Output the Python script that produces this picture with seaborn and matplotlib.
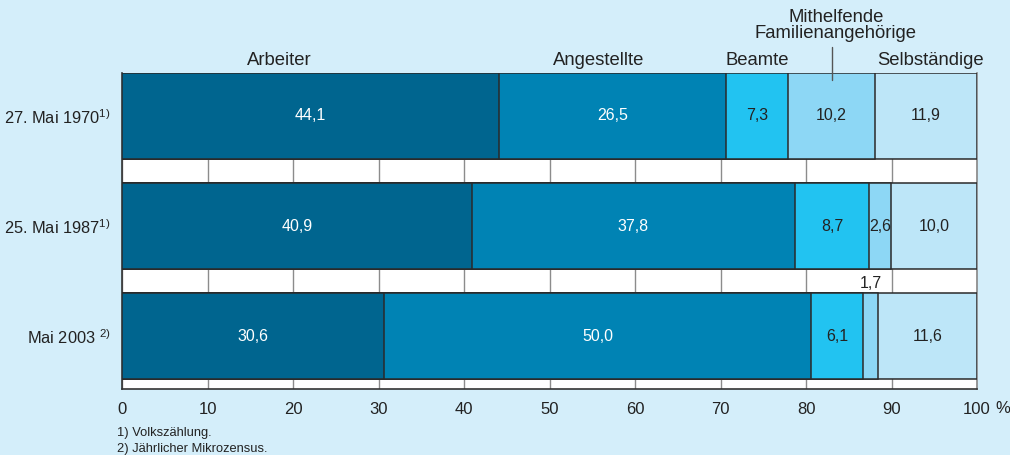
import matplotlib
matplotlib.use("Agg")
import matplotlib.pyplot as plt
import matplotlib.transforms as mtransforms
import numpy as np
import pandas as pd
import seaborn as sns

# Erwerbstätige nach Stellung im Beruf (Anteile in %)
zeitpunkte = ["27. Mai 1970", "25. Mai 1987", "Mai 2003"]
fussnoten_zeile = ["$^{1)}$", "$^{1)}$", " $^{2)}$"]
gruppen = ["Arbeiter", "Angestellte", "Beamte",
           "Mithelfende Familienangehörige", "Selbständige"]
arbeiter = [44.1, 40.9, 30.6]
angestellte = [26.5, 37.8, 50.0]
beamte = [7.3, 8.7, 6.1]
mithelfende = [10.2, 2.6, 1.7]
selbstaendige = [11.9, 10.0, 11.6]
x_ticks = [0, 10, 20, 30, 40, 50, 60, 70, 80, 90, 100]
x_ticklabels = ["0", "10", "20", "30", "40", "50", "60", "70", "80", "90", "100"]
einheit = "%"
fussnoten = ["1) Volkszählung.", "2) Jährlicher Mikrozensus."]

farben = ["#00658f", "#0083b4", "#22c3f1", "#8dd7f5", "#bde6f8"]
textfarben = ["white", "white", "#222222", "#222222", "#222222"]

sns.set_theme(style="white")
plt.rcParams["font.family"] = ["Liberation Sans", "DejaVu Sans"]
plt.rcParams["mathtext.fontset"] = "custom"
plt.rcParams["mathtext.rm"] = "Liberation Sans"
plt.rcParams["mathtext.it"] = "Liberation Sans"

bg = "#d4eefa"
fig = plt.figure(figsize=(10.10, 4.55), dpi=100, facecolor=bg)
ax = fig.add_axes([122 / 1010, 1 - 389 / 455, 855 / 1010, 316 / 455])
ax.set_facecolor("white")

werte = np.array([arbeiter, angestellte, beamte, mithelfende, selbstaendige])
kumuliert = np.cumsum(werte, axis=0)
df = pd.DataFrame({"zeit": zeitpunkte})

# Gestapelte Balken: von der breitesten Summe nach vorn übereinander gezeichnet
for i in range(len(gruppen) - 1, -1, -1):
    df["wert"] = kumuliert[i]
    sns.barplot(data=df, x="wert", y="zeit", order=zeitpunkte, orient="h",
                color=farben[i], saturation=1, width=0.78,
                edgecolor="#2a2a2a", linewidth=1.1, ax=ax, zorder=3)

# Wertebeschriftungen in den Segmenten
for j in range(len(zeitpunkte)):
    for i in range(len(gruppen)):
        mitte = kumuliert[i, j] - werte[i, j] / 2
        txt = f"{werte[i, j]:.1f}".replace(".", ",")
        if werte[i, j] < 2.0:
            ax.text(mitte, j - 0.39 - 0.02, txt, ha="center", va="bottom",
                    fontsize=11.5, color="#222222", zorder=5)
        else:
            ax.text(mitte, j, txt, ha="center", va="center",
                    fontsize=11.5, color=textfarben[i], zorder=5)

ax.set_xlim(0, 100)
ax.set_ylim(2.48, -0.39)
ax.set_xticks(x_ticks)
ax.set_xticklabels(x_ticklabels, fontsize=12, color="#222222")
ax.text(102.2, -0.038, einheit, transform=mtransforms.blended_transform_factory(
    ax.transData, ax.transAxes), ha="left", va="top", fontsize=12, color="#222222")
ax.set_yticks(range(len(zeitpunkte)))
ax.set_yticklabels([z + f for z, f in zip(zeitpunkte, fussnoten_zeile)],
                   fontsize=11.8, color="#222222")
ax.set_xlabel("")
ax.set_ylabel("")
ax.grid(axis="x", color="#8c8c8c", linewidth=1.0, zorder=0)
ax.set_axisbelow(True)
ax.tick_params(axis="x", direction="out", length=6, width=1.0, color="#333333", pad=3)
ax.tick_params(axis="y", length=0, pad=8)
ax.spines["top"].set_visible(False)
ax.spines["right"].set_color("#8c8c8c")
ax.spines["left"].set_color("#333333")
ax.spines["bottom"].set_color("#333333")
ax.spines["left"].set_linewidth(1.2)
ax.spines["bottom"].set_linewidth(1.2)

# Gruppenüberschriften über dem obersten Balken
trans = mtransforms.blended_transform_factory(ax.transData, ax.transAxes)
kopf = {"Arbeiter": 18.4, "Angestellte": 55.8, "Beamte": 74.3, "Selbständige": 94.6}
for name, xpos in kopf.items():
    ax.text(xpos, 1.038, name, transform=trans, ha="center", va="center",
            fontsize=13.3, color="#222222")
teile = gruppen[3].split(" ")
ax.text(83.5, 1.177, teile[0], transform=trans, ha="center", va="center",
        fontsize=13.3, color="#222222")
ax.text(83.5, 1.124, teile[1], transform=trans, ha="center", va="center",
        fontsize=13.3, color="#222222")
ax.plot([83.0, 83.0], [1.082, 0.978], transform=trans, color="#555555",
        linewidth=1.0, clip_on=False, zorder=6)

# Fußnoten
fig.text(117 / 1010, 1 - 433 / 455, fussnoten[0], fontsize=9.3, color="#222222",
         ha="left", va="center")
fig.text(117 / 1010, 1 - 449 / 455, fussnoten[1], fontsize=9.3, color="#222222",
         ha="left", va="center")

fig.savefig("out.png", dpi=100, facecolor=bg)
